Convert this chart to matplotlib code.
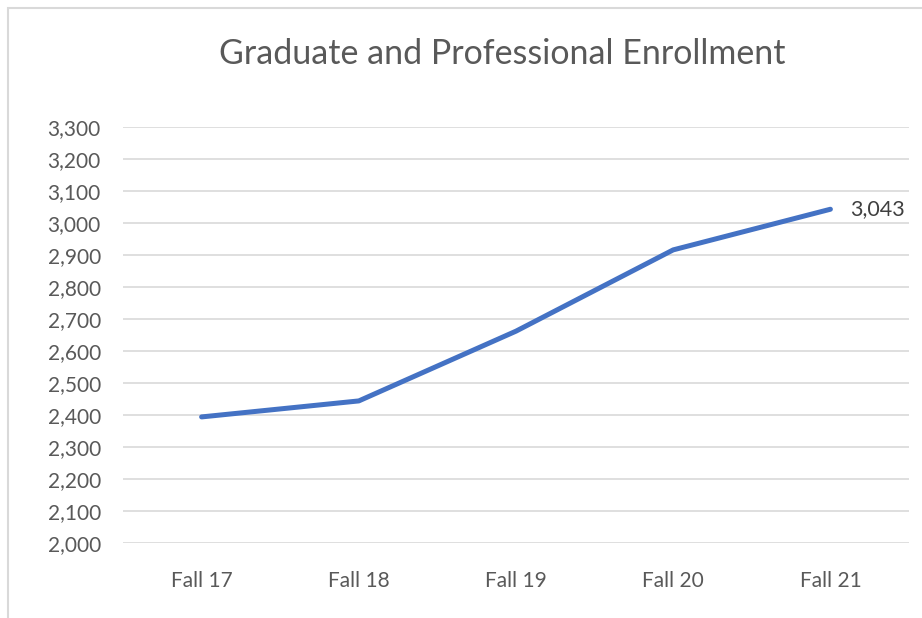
import matplotlib.pyplot as plt
from matplotlib.patches import Rectangle
from matplotlib.ticker import FuncFormatter, MultipleLocator

# ---------------- DATA ----------------

terms = ["Fall 17", "Fall 18", "Fall 19", "Fall 20", "Fall 21"]
enrollment = [2394, 2444, 2662, 2916, 3043]

text_color = "#595959"
line_color = "#4472C4"
grid_color = "#D9D9D9"

plt.rcParams["font.family"] = ["Lato", "DejaVu Sans"]

# ---------------- FIGURE ----------------

fig = plt.figure(figsize=(9.22, 6.18), dpi=100)

# light chart frame (left and top edges visible)
fig.patches.append(
    Rectangle(
        (8 / 922, -0.1), 1.2, 1.1 - 8 / 618,
        transform=fig.transFigure,
        facecolor="none",
        edgecolor="#D9D9D9",
        linewidth=1.5
    )
)

ax = fig.add_axes([123 / 922, 1 - 543 / 618, (909 - 123) / 922, (543 - 127) / 618])

x = list(range(len(terms)))

ax.plot(x, enrollment, color=line_color, linewidth=3.6, solid_capstyle="round",
        solid_joinstyle="round", zorder=3)

ax.annotate(
    f"{enrollment[-1]:,}",
    xy=(x[-1], enrollment[-1]),
    xytext=(14, 0),
    textcoords="offset points",
    ha="left",
    va="center",
    fontsize=15.5,
    color="#404040"
)

ax.set_xlim(-0.5, len(terms) - 0.5)
ax.set_ylim(2000, 3300)
ax.yaxis.set_major_locator(MultipleLocator(100))
ax.yaxis.set_major_formatter(FuncFormatter(lambda v, p: f"{int(v):,}"))

ax.set_xticks(x)
ax.set_xticklabels(terms)

ax.grid(axis="y", color=grid_color, linewidth=1.2)
ax.set_axisbelow(True)

for side in ["top", "right", "left", "bottom"]:
    ax.spines[side].set_visible(False)

ax.tick_params(axis="both", length=0, labelsize=15, colors=text_color)
ax.tick_params(axis="y", pad=16)
ax.tick_params(axis="x", pad=20)

fig.text(
    0.545, 1 - 54 / 618,
    "Graduate and Professional Enrollment",
    ha="center",
    va="center",
    fontsize=24.5,
    color=text_color
)

plt.savefig("out.png", dpi=100)
